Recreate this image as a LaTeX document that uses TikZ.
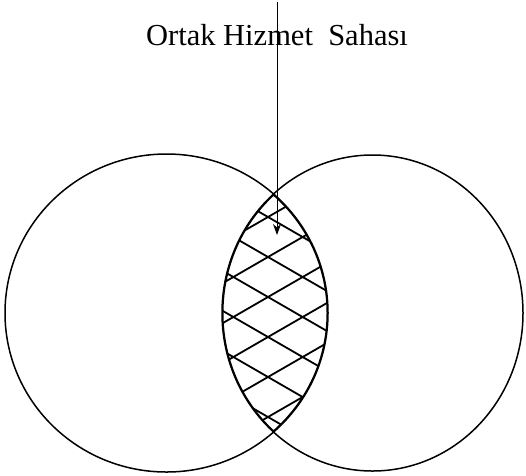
\documentclass[tikz,border=0pt]{standalone}
\usepackage{fontspec}
\setmainfont{Liberation Serif}
\usetikzlibrary{arrows.meta}

\begin{document}
\begin{tikzpicture}[x=1pt,y=-1pt,
    ring/.style={black, line width=1.5pt},
    hatch/.style={black, line width=1.8pt},
    pointer/.style={black, line width=1pt, -{Stealth[length=11pt,width=8pt]}}]
    \useasboundingbox (0,0) rectangle (526,475);
    % The two service areas.
        \draw[ring] (166.5,313) ellipse [x radius=161.5, y radius=159];
        \draw[ring] (372.5,313) ellipse [x radius=150.5, y radius=158];
    % Cross hatching of the common part.
    \begin{scope}
        \clip (166.5,313) ellipse [x radius=161.5, y radius=159];
        \clip (372.5,313) ellipse [x radius=150.5, y radius=158];
        \foreach \k in {-6,...,8} {
            \draw[hatch] (188,{257+40*\k-0.577*80}) -- (348,{257+40*\k+0.577*80});
            \draw[hatch] (188,{257+40*\k+0.577*80}) -- (348,{257+40*\k-0.577*80});
        }
        % This thickens the edge of the common part.
        \draw[hatch, line width=3pt] (166.5,313) ellipse [x radius=161.5, y radius=159];
        \draw[hatch, line width=3pt] (372.5,313) ellipse [x radius=150.5, y radius=158];
    \end{scope}
    % Label and the arrow into the common part.
        \node[font=\fontsize{30.5}{36}\selectfont, anchor=base] (label) at (277,45) {Ortak Hizmet\ \ Sahası};
        \coordinate (top) at (277,2);
        \coordinate (tip) at (277,235);
        \draw[pointer] (top) -- (tip);
\end{tikzpicture}
\end{document}
